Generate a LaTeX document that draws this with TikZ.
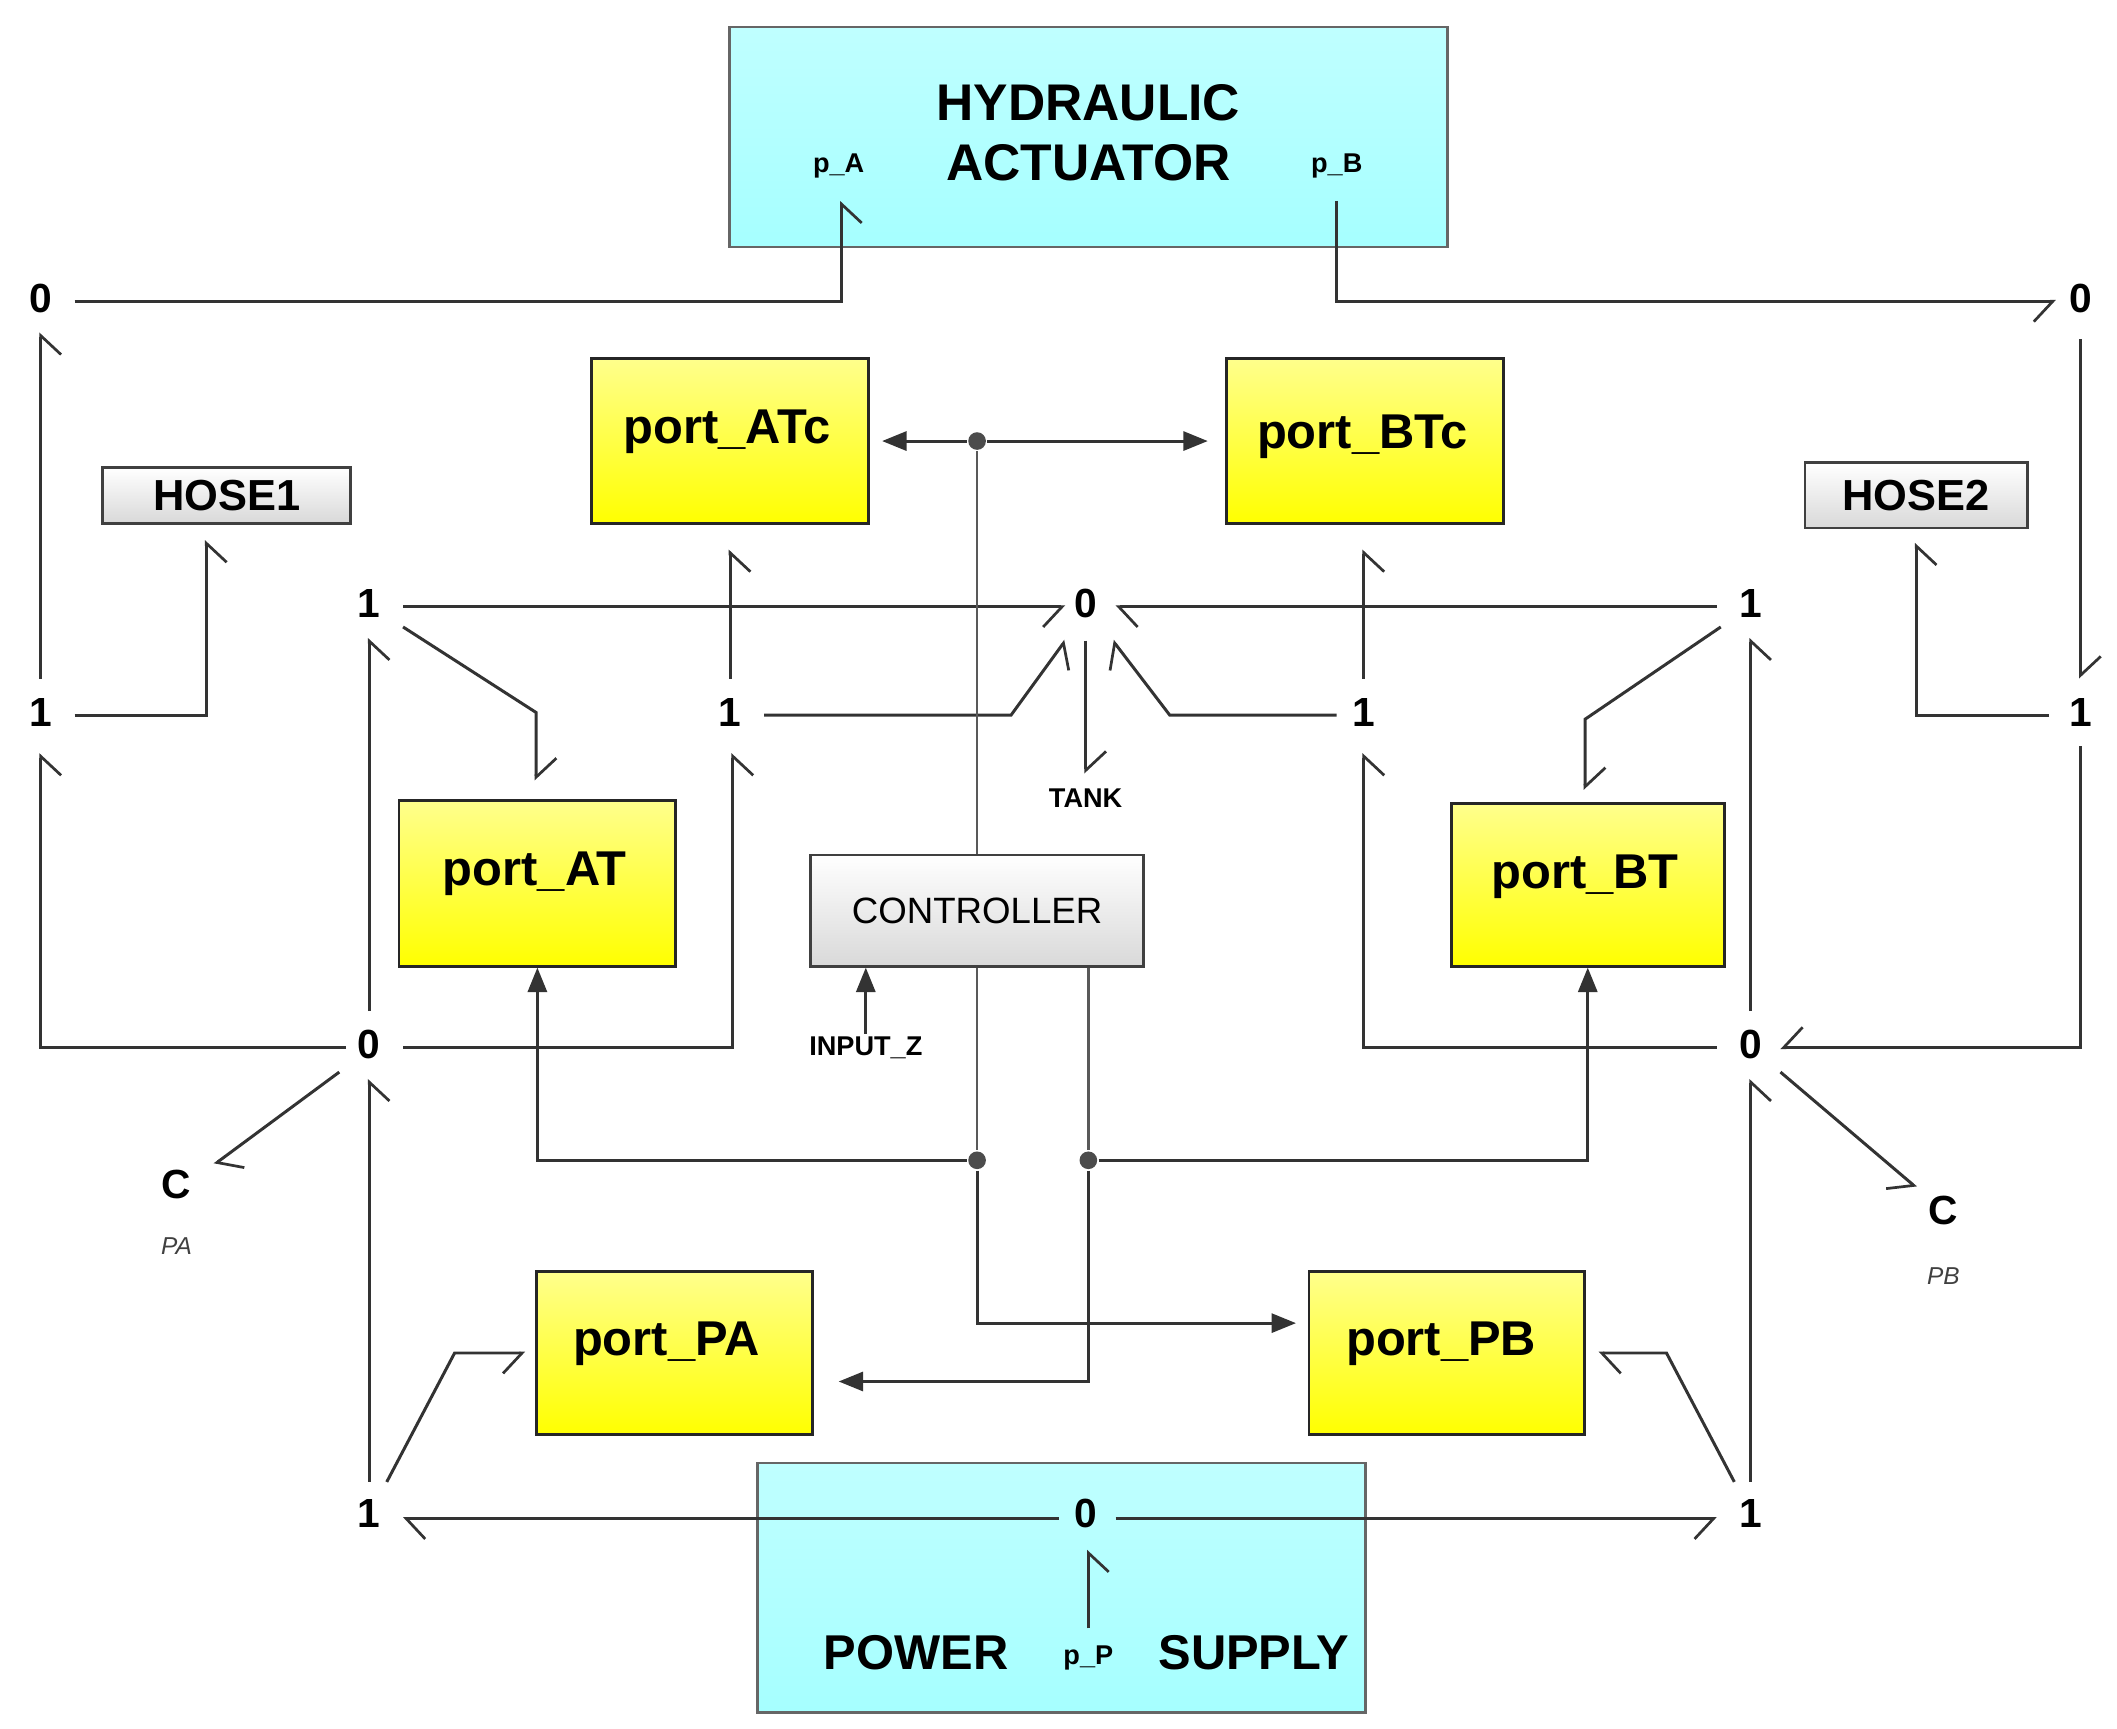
\documentclass[tikz,border=0pt]{standalone}
\usepackage{fontspec}
\setmainfont{Liberation Sans}
\usetikzlibrary{arrows.meta,calc}
\begin{document}
\begin{tikzpicture}[x=1pt,y=-1pt,
  line width=2.2pt, draw={black!80},
  yel/.style={draw=black!85,line width=2pt,top color=yellow!45,bottom color=yellow,font=\fontsize{36}{40}\selectfont\bfseries,inner sep=0},
  cy/.style={draw=black!60,line width=2pt,top color=cyan!25,bottom color=cyan!35},
  gr/.style={draw=black!75,line width=2pt,top color=white,bottom color=black!15,inner sep=0},
  jn/.style={font=\fontsize{30}{32}\selectfont\bfseries,inner sep=2pt},
  sm/.style={font=\fontsize{20}{22}\selectfont\bfseries,inner sep=1pt},
  hb/.style={-{Straight Barb[harpoon,length=14pt,width=30pt,line width=2pt]}},
  hs/.style={-{Straight Barb[harpoon,swap,length=14pt,width=30pt,line width=2pt]}},
  sig/.style={-{Triangle[length=18pt,width=14pt]},line width=2.2pt},
  dot/.style={circle,fill=black!70,inner sep=0,minimum size=13pt}]
\useasboundingbox (0,0) rectangle (1560,1274);
% boxes
\node[cy,minimum width=529pt,minimum height=162pt] (ha) at (802,101) {};
\node[font=\fontsize{38}{44}\selectfont\bfseries,align=center] (hat) at (802,98) {HYDRAULIC\\ACTUATOR};
\node[sm] (pA) at (618,122) {p\_A};
\node[sm] (pB) at (985,122) {p\_B};
\node[cy,minimum width=448pt,minimum height=184pt] (ps) at (782,1170) {};
\node[font=\fontsize{36}{40}\selectfont\bfseries] (pow) at (675,1218) {POWER};
\node[font=\fontsize{36}{40}\selectfont\bfseries] (sup) at (924,1218) {SUPPLY};
\node[sm] (pP) at (802,1222) {p\_P};
\node[yel,minimum width=204pt,minimum height=122pt] (ATc) at (538,325) {};
\node[font=\fontsize{36}{40}\selectfont\bfseries] at (536,318) {port\_ATc};
\node[yel,minimum width=204pt,minimum height=122pt] (BTc) at (1006,325) {};
\node[font=\fontsize{36}{40}\selectfont\bfseries] at (1004,322) {port\_BTc};
\node[yel,minimum width=204pt,minimum height=122pt] (AT) at (396,651) {};
\node[font=\fontsize{36}{40}\selectfont\bfseries] at (394,644) {port\_AT};
\node[yel,minimum width=201pt,minimum height=120pt] (BT) at (1170,652) {};
\node[font=\fontsize{36}{40}\selectfont\bfseries] at (1168,646) {port\_BT};
\node[yel,minimum width=203pt,minimum height=120pt] (PA) at (497,997) {};
\node[font=\fontsize{36}{40}\selectfont\bfseries] at (491,990) {port\_PA};
\node[yel,minimum width=203pt,minimum height=120pt] (PB) at (1066,997) {};
\node[font=\fontsize{36}{40}\selectfont\bfseries] at (1062,990) {port\_PB};
\node[gr,minimum width=183pt,minimum height=41pt,font=\fontsize{32}{34}\selectfont\bfseries] (H1) at (167,365) {HOSE1};
\node[gr,minimum width=164pt,minimum height=48pt,font=\fontsize{32}{34}\selectfont\bfseries] (H2) at (1412,365) {HOSE2};
\node[gr,minimum width=245pt,minimum height=82pt,font=\fontsize{27}{30}\selectfont] (CT) at (720,671) {CONTROLLER};
% junctions
\node[jn] (z0) at (30,220) {0};
\node[jn] (z0r) at (1533,220) {0};
\node[jn] (o1) at (30,525) {1};
\node[jn] (o1r) at (1533,525) {1};
\node[jn] (oA) at (272,445) {1};
\node[jn] (zc) at (800,445) {0};
\node[jn] (oB) at (1290,445) {1};
\node[jn] (oAc) at (538,525) {1};
\node[jn] (oBc) at (1005,525) {1};
\node[jn] (zA) at (272,770) {0};
\node[jn] (zB) at (1290,770) {0};
\node[jn] (pA1) at (272,1115) {1};
\node[jn] (zP) at (800,1115) {0};
\node[jn] (pB1) at (1290,1115) {1};
\node[jn] (cA) at (130,873) {C};
\node[font=\fontsize{18}{20}\selectfont\itshape,text=black!75] at (130,918) {PA};
\node[jn] (cB) at (1432,892) {C};
\node[font=\fontsize{18}{20}\selectfont\itshape,text=black!75] at (1432,940) {PB};
\node[sm] (tank) at (800,588) {TANK};
\node[sm] (inz) at (638,772) {INPUT\_Z};
% bonds
\draw[hs] (55,222) -- (620,222) -- (620,148);
\draw[hs] (985,148) -- (985,222) -- (1515,222);
\draw[hb] (1533,250) -- (1533,500);
\draw[hs] (30,500) -- (30,245);
\draw[hs] (55,527) -- (152,527) -- (152,398);
\draw[hs] (1510,527) -- (1412,527) -- (1412,400);
\draw[hs] (255,772) -- (30,772) -- (30,555);
\draw[hs] (1533,550) -- (1533,772) -- (1312,772);
\draw[hs] (297,447) -- (785,447);
\draw[hb] (1265,447) -- (822,447);
\draw[hb] (297,462) -- (395,525) -- (395,575);
\draw[hs] (272,745) -- (272,470);
\draw[hs] (297,772) -- (540,772) -- (540,555);
\draw[hs] (538,500) -- (538,405);
\draw[hs] (563,527) -- (745,527) -- (785,472);
\draw[hb] (800,472) -- (800,570);
\draw[hb] (985,527) -- (862,527) -- (820,472);
\draw[hs] (1005,500) -- (1005,405);
\draw[hs] (1265,772) -- (1005,772) -- (1005,555);
\draw[hb] (1268,462) -- (1168,530) -- (1168,582);
\draw[hs] (1290,745) -- (1290,470);
\draw[hb] (250,790) -- (158,858);
\draw[hs] (1312,790) -- (1412,875);
\draw[hs] (272,1092) -- (272,795);
\draw[hs] (285,1092) -- (335,997) -- (387,997);
\draw[hb] (780,1119) -- (297,1119);
\draw[hs] (822,1119) -- (1265,1119);
\draw[hb] (1278,1092) -- (1228,997) -- (1178,997);
\draw[hs] (1290,1092) -- (1290,795);
\draw[hs] (802,1200) -- (802,1142);
% signals
\node[dot] (d1) at (720,325) {};
\node[dot] (d2) at (720,855) {};
\node[dot] (d3) at (802,855) {};
\draw[line width=2pt,draw=black!65] (CT.north -| d1) -- (d1);
\draw[sig] (d1) -- (650,325);
\draw[sig] (d1) -- (890,325);
\draw[line width=2pt,draw=black!65] (CT.south -| d2) -- (d2);
\draw[line width=2pt,draw=black!65] (CT.south -| d3) -- (d3);
\draw[sig] (d2) -- (396,855) -- (AT.south);
\draw[sig] (d2) -- (720,975) -- (955,975);
\draw[sig] (d3) -- (1170,855) -- (BT.south);
\draw[sig] (d3) -- (802,1018) -- (618,1018);
\draw[sig] (inz.north) -- (CT.south -| inz);
\end{tikzpicture}
\end{document}
